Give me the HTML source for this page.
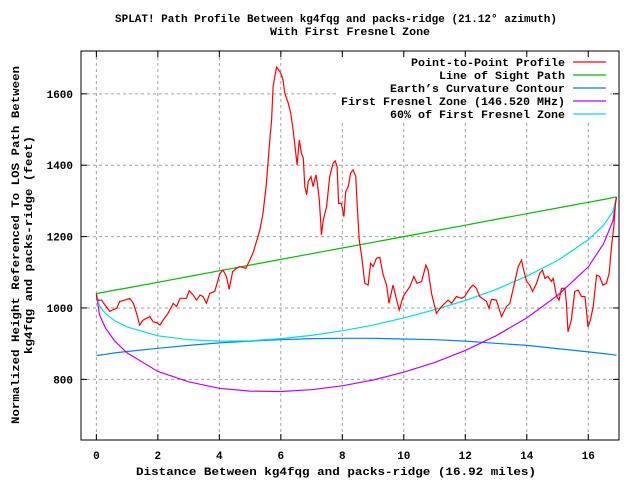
<!DOCTYPE html>
<html><head><meta charset="utf-8"><style>
html,body{margin:0;padding:0;background:#fff;}
svg{display:block;}
text{font-family:"Liberation Mono",monospace;font-weight:bold;font-size:11px;fill:#000;}
</style></head><body>
<svg id="chart" width="640" height="480" viewBox="0 0 640 480" xmlns="http://www.w3.org/2000/svg">
<rect x="0" y="0" width="640" height="480" fill="#fff"/>
<text x="115" y="22" textLength="442" lengthAdjust="spacingAndGlyphs">SPLAT! Path Profile Between kg4fqg and packs-ridge (21.12° azimuth)</text>
<text x="270" y="35" textLength="160" lengthAdjust="spacingAndGlyphs">With First Fresnel Zone</text>
<g id="grid"></g>
<g id="series"></g>
<g id="axes"></g>
<text transform="translate(19,245) rotate(-90)" text-anchor="middle" textLength="358" lengthAdjust="spacingAndGlyphs">Normalized Height Referenced To LOS Path Between</text>
<text transform="translate(32,245) rotate(-90)" text-anchor="middle" textLength="218" lengthAdjust="spacingAndGlyphs">kg4fqg and packs-ridge (feet)</text>
<text x="136" y="475" textLength="400" lengthAdjust="spacingAndGlyphs">Distance Between kg4fqg and packs-ridge (16.92 miles)</text>
<g id="legend"></g>
</svg>
<script>
const xTicks = [0,2,4,6,8,10,12,14,16];
const yTicks = [800,1000,1200,1400,1600];
const profileDist = [0,0.02,0.06,0.17,0.28,0.44,0.55,0.66,0.76,0.93,1.09,1.20,1.31,1.41,1.52,1.63,1.74,1.85,1.96,2.07,2.17,2.33,2.50,2.61,2.72,2.93,3.02,3.15,3.26,3.37,3.47,3.58,3.69,3.85,4.02,4.12,4.23,4.32,4.43,4.56,4.67,4.86,4.99,5.10,5.32,5.42,5.53,5.64,5.70,5.75,5.86,5.97,6.02,6.07,6.13,6.24,6.32,6.40,6.46,6.53,6.60,6.67,6.73,6.78,6.84,6.89,6.98,7.05,7.14,7.18,7.25,7.30,7.32,7.38,7.49,7.59,7.70,7.77,7.83,7.88,7.97,8.05,8.11,8.19,8.27,8.35,8.44,8.48,8.55,8.63,8.73,8.84,8.92,9.00,9.11,9.22,9.33,9.44,9.52,9.65,9.74,9.85,9.98,10.20,10.33,10.43,10.58,10.72,10.79,10.90,11.06,11.23,11.44,11.55,11.71,11.88,11.98,12.15,12.25,12.36,12.47,12.69,12.77,12.85,13.01,13.18,13.34,13.45,13.55,13.72,13.83,13.90,13.99,14.10,14.19,14.32,14.42,14.51,14.59,14.69,14.80,14.86,14.97,15.05,15.13,15.24,15.29,15.34,15.45,15.56,15.67,15.78,15.89,15.94,15.99,16.07,16.16,16.27,16.37,16.48,16.59,16.68,16.75,16.83,16.89,16.92];
const profileHeight = [1040,1022,1022,1022,1008,990,996,999,1018,1022,1027,1013,985,952,966,971,976,961,959,952,966,985,1013,1004,1027,1027,1048,1036,1022,1036,1032,1013,1041,1046,1097,1106,1088,1052,1102,1111,1116,1111,1134,1155,1219,1265,1349,1471,1527,1620,1675,1662,1653,1639,1602,1574,1546,1499,1452,1401,1471,1434,1420,1340,1317,1354,1368,1340,1373,1354,1303,1237,1205,1247,1284,1368,1406,1412,1396,1293,1293,1256,1326,1340,1378,1387,1368,1293,1191,1144,1069,1064,1125,1116,1139,1142,1092,1064,1013,1064,1032,994,1032,1060,1088,1069,1074,1120,1106,1041,985,1004,1022,1013,1032,1027,1032,1055,1064,1055,1032,1018,999,1024,1022,976,1004,1013,1050,1116,1134,1106,1074,1064,1046,1069,1097,1106,1083,1088,1074,1083,1032,1022,1055,1055,1013,933,966,1046,1050,1032,1032,994,947,966,1004,1092,1088,1064,1069,1097,1167,1228,1298,1310];
const curveDist = [0,0.1,0.3,0.6,1,2,3,4,5,6,7,8,9,10,11,12,13,14,15,16,16.5,16.8,16.92];
const losHeight = [1040,1042,1045,1050,1056,1072,1088,1104,1120,1136,1152,1168,1184,1200,1216,1232,1248,1264,1280,1296,1304,1309,1311];
const earthHeight = [867,868,870,874,878,887,895,902,907,911,914,915,915,913,911,907,901,895,886,877,872,869,867];
const fresnelHeight = [1040,982,943,907,874,822,793,775,767,766,771,782,798,820,847,881,922,972,1035,1115,1180,1244,1311];
const fresnel60Height = [1040,1006,984,964,947,922,911,907,908,914,923,936,952,972,995,1021,1052,1089,1133,1191,1232,1270,1311];
const legendLabels = ["Point-to-Point Profile","Line of Sight Path","Earth\u2019s Curvature Contour","First Fresnel Zone (146.520 MHz)","60% of First Fresnel Zone"];

const NS = "http://www.w3.org/2000/svg";
const L = 81, R = 619, T = 51, B = 440;
const xMin = -0.5, xMax = 17.0, yMin = 630, yMax = 1720;
function xs(v){ return L + (v - xMin) / (xMax - xMin) * (R - L); }
function ys(v){ return B - (v - yMin) / (yMax - yMin) * (B - T); }
function mk(tag, attrs, parent){ const e = document.createElementNS(NS, tag); for (const k in attrs) e.setAttribute(k, attrs[k]); parent.appendChild(e); return e; }

const grid = document.getElementById('grid');
const axes = document.getElementById('axes');
const series = document.getElementById('series');
const legend = document.getElementById('legend');

xTicks.forEach(t => {
  const x = xs(t);
  const g = mk('line', {x1:x, x2:x, y1:T, y2:B, stroke:'#a0a0a0', 'stroke-dasharray':'3,3', 'stroke-width':1}, grid);
  
  
  const t1 = mk('line', {x1:x, x2:x, y1:B, y2:B-6, stroke:'#000'}, axes);
  
  
  const t2 = mk('line', {x1:x, x2:x, y1:T, y2:T+6, stroke:'#000'}, axes);
  
  
  const lb = mk('text', {x:x, y:459, 'text-anchor':'middle'}, axes);
  lb.textContent = String(t);
  
  
});
yTicks.forEach(t => {
  const y = ys(t);
  const g = mk('line', {x1:L, x2:R, y1:y, y2:y, stroke:'#a0a0a0', 'stroke-dasharray':'3,3', 'stroke-width':1}, grid);
  
  
  const t1 = mk('line', {x1:L, x2:L+6, y1:y, y2:y, stroke:'#000'}, axes);
  
  
  const t2 = mk('line', {x1:R, x2:R-6, y1:y, y2:y, stroke:'#000'}, axes);
  
  
  const lb = mk('text', {x:73, y:y+4, 'text-anchor':'end'}, axes);
  lb.textContent = String(t);
  
  
});
const frame = mk('rect', {x:L, y:T, width:R-L, height:B-T, fill:'none', stroke:'#000', 'stroke-width':1}, axes);



const lbg = mk('rect', {x:338, y:55, width:272, height:66, fill:'#fff'}, grid);



function pts(xsArr, ysArr){ return xsArr.map((d,i) => xs(d).toFixed(1) + ',' + ys(ysArr[i]).toFixed(1)).join(' '); }

const p1 = mk('polyline', {points: pts(curveDist, earthHeight), fill:'none', stroke:'#0080ff', 'stroke-width':1.2}, series);


const p2 = mk('polyline', {points: pts(curveDist, fresnelHeight), fill:'none', stroke:'#c000ff', 'stroke-width':1.2}, series);


const p3 = mk('polyline', {points: pts(curveDist, fresnel60Height), fill:'none', stroke:'#00e0e0', 'stroke-width':1.2}, series);


const p4 = mk('polyline', {points: pts(curveDist, losHeight), fill:'none', stroke:'#00c000', 'stroke-width':1.2}, series);


const p5 = mk('polyline', {points: pts(profileDist, profileHeight), fill:'none', stroke:'#ff0000', 'stroke-width':1.2}, series);



const legendColors = ['#ff0000','#00c000','#0080ff','#c000ff','#00e0e0'];
legendLabels.forEach((s, i) => {
  const y = 62 + i * 13;
  const t = mk('text', {x:565, y:y+4, 'text-anchor':'end', textLength: s.length * 7, lengthAdjust:'spacingAndGlyphs'}, legend);
  t.textContent = s;
  
  
  const ln = mk('line', {x1:573, x2:606, y1:y, y2:y, stroke:legendColors[i], 'stroke-width':1.2}, legend);
  
  
});
</script>
</body></html>
